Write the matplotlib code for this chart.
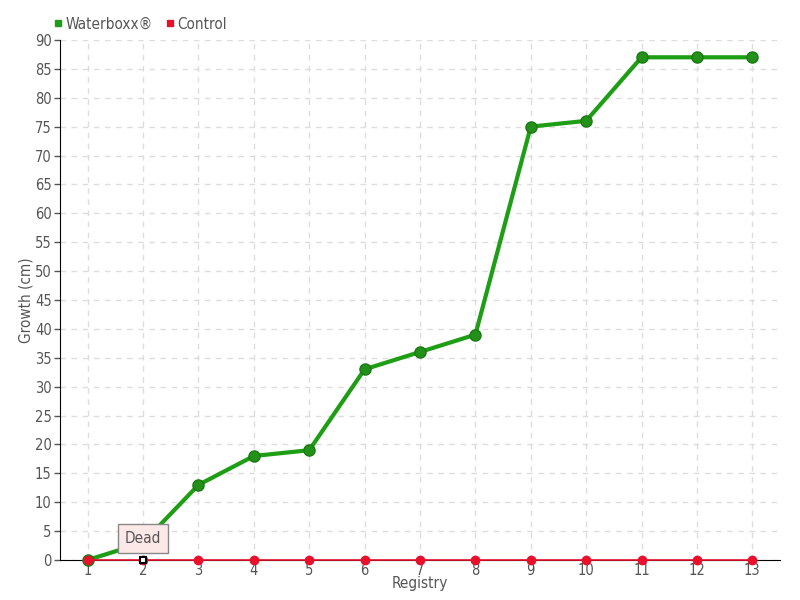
import numpy as np
import matplotlib.pyplot as plt
from matplotlib.lines import Line2D

plt.rcParams['font.family'] = ['DejaVu Sans']
plt.rcParams['font.stretch'] = 'condensed'

registry = list(range(1, 14))
waterboxx = [0, 3, 13, 18, 19, 33, 36, 39, 75, 76, 87, 87, 87]
control = [0] * 13
y_ticks = list(range(0, 95, 5))

txt = '#555555'
green = '#1e9e14'
red = '#e8102a'

fig = plt.figure(figsize=(8, 6), dpi=100)
ax = fig.add_axes([0.075, 0.0667, 0.9, 0.8667])

ax.plot(registry, waterboxx, color=green, lw=3, marker='o', ms=8,
        mfc='#23901a', mec='#1a7a12', zorder=5, clip_on=False)
ax.plot(registry, control, color=red, lw=1.2, marker='o', ms=6,
        mfc=red, mec=red, zorder=6, clip_on=False)
# highlighted point
ax.plot(registry[1], control[1], marker='s', ms=5, mfc='white', mec='black',
        mew=1.5, zorder=8, clip_on=False)

ax.set_xlim(0.5, 13.5)
ax.set_ylim(0, 90)
ax.set_xticks(registry)
ax.set_yticks(y_ticks)
ax.grid(True, ls=(0, (4, 4)), color='#dddddd', lw=1)
ax.set_axisbelow(True)
for s in ['top', 'right']:
    ax.spines[s].set_visible(False)
ax.spines['left'].set_color('black')
ax.spines['bottom'].set_color('black')
ax.spines['bottom'].set_zorder(4)
ax.tick_params(axis='both', colors=txt, labelsize=10.5, length=4, width=1)
ax.tick_params(axis='y', pad=2)
ax.tick_params(axis='x', direction='inout', pad=0)
for t in ax.get_xticklines() + ax.get_yticklines():
    t.set_color('black')

ax.set_xlabel('Registry', color=txt, fontsize=11, labelpad=-1)
ax.set_ylabel('Growth (cm)', color=txt, fontsize=11, labelpad=1)

# tooltip
ax.annotate('Dead', xy=(registry[1], control[1]), xytext=(0, 15.5),
            textcoords='offset points', ha='center', va='center',
            fontsize=11, color=txt, zorder=7,
            bbox=dict(boxstyle='square,pad=0.45', fc='#fde8e8', ec='#888888', lw=1))

handles = [Line2D([], [], ls='none', marker='s', ms=5, color=green),
           Line2D([], [], ls='none', marker='s', ms=5, color=red)]
leg = fig.legend(handles, ['Waterboxx®', 'Control'], loc='upper left',
                 bbox_to_anchor=(0.05, 0.995), ncol=2, frameon=False,
                 fontsize=11, handlelength=0.6, handletextpad=0.2,
                 columnspacing=0.8)
for t in leg.get_texts():
    t.set_color(txt)

fig.savefig('out.png', dpi=100)
